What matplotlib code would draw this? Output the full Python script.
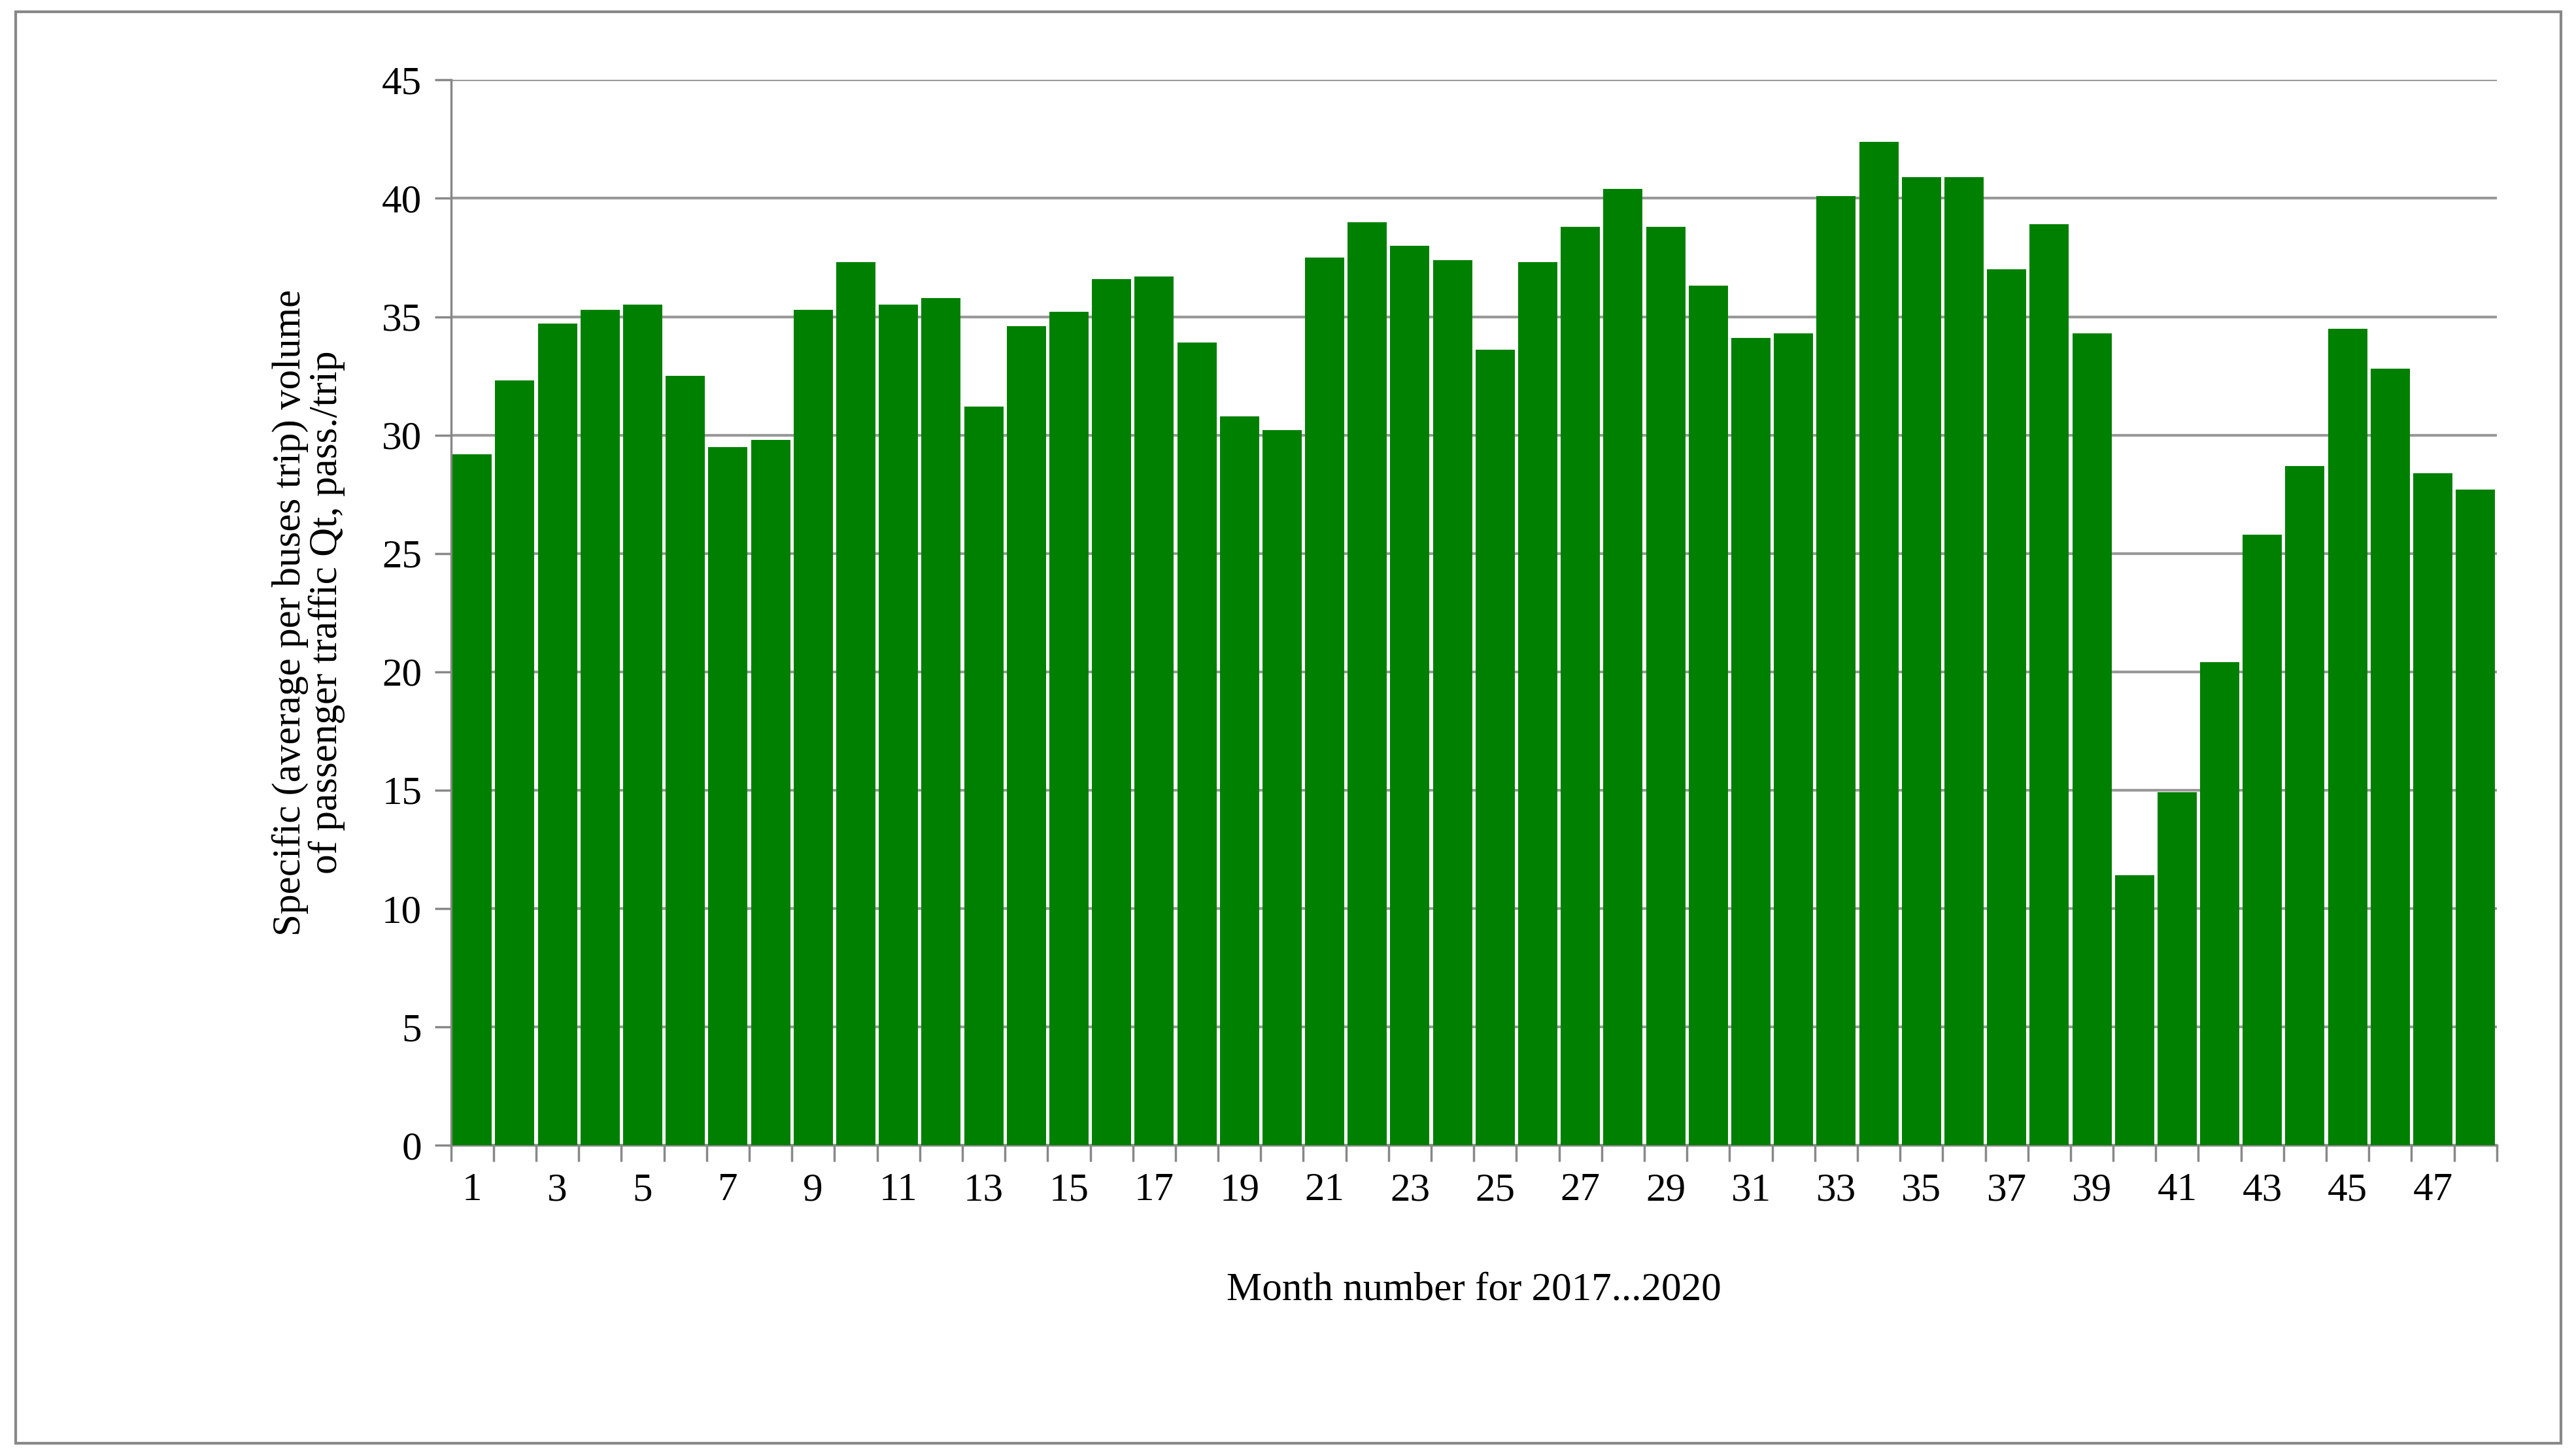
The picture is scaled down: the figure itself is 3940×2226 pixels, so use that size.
import matplotlib.pyplot as plt
from matplotlib.patches import Rectangle

months = list(range(1, 49))
values = [29.2, 32.3, 34.7, 35.3, 35.5, 32.5, 29.5, 29.8, 35.3, 37.3,
          35.5, 35.8, 31.2, 34.6, 35.2, 36.6, 36.7, 33.9, 30.8, 30.2,
          37.5, 39.0, 38.0, 37.4, 33.6, 37.3, 38.8, 40.4, 38.8, 36.3,
          34.1, 34.3, 40.1, 42.4, 40.9, 40.9, 37.0, 38.9, 34.3, 11.4,
          14.9, 20.4, 25.8, 28.7, 34.5, 32.8, 28.4, 27.7]

plt.rcParams['font.family'] = ['Liberation Serif', 'DejaVu Serif']
fig = plt.figure(figsize=(39.41, 22.26), dpi=100)
ax = fig.add_axes([0.175, 0.213, 0.794, 0.732])

ax.bar(months, values, width=0.92, color='#008000', zorder=3)
ax.set_xlim(0.5, 48.5)
ax.set_ylim(0, 45)
ax.set_yticks(range(0, 46, 5))
ax.set_xticks(months[::2])
ax.set_xticks([m + 0.5 for m in range(0, 49)], minor=True)
ax.tick_params(axis='x', which='major', length=0, labelsize=44, pad=30)
ax.tick_params(axis='x', which='minor', length=18, width=2.5, color='#888888')
ax.tick_params(axis='y', length=18, width=2.5, color='#888888', labelsize=44, pad=14)
ax.grid(axis='y', color='#999999', linewidth=3, zorder=0)
for s in ['top', 'right']:
    ax.spines[s].set_visible(False)
ax.spines['left'].set_color('#888888')
ax.spines['bottom'].set_color('#888888')
ax.spines['left'].set_linewidth(2.5)
ax.spines['bottom'].set_linewidth(2.5)

ax.set_xlabel('Month number for 2017...2020', fontsize=44, labelpad=70)
ax.set_ylabel('Specific (average per buses trip) volume\nof passenger traffic Qt, pass./trip',
              fontsize=44, labelpad=40, linespacing=1.0)

fig.patches.append(Rectangle((0.006, 0.008), 0.988, 0.984, transform=fig.transFigure,
                             fill=False, edgecolor='#888888', linewidth=3))
fig.savefig('out.png', dpi=100)
